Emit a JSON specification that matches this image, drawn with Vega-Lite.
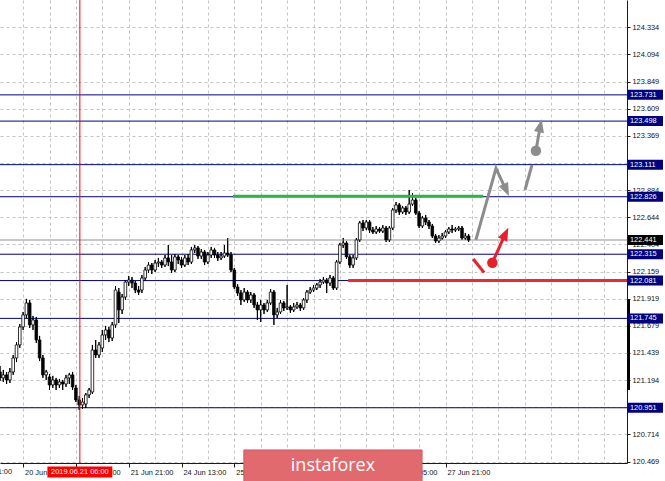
{
  "$schema": "https://vega.github.io/schema/vega-lite/v6.json",
  "width": 627,
  "height": 463,
  "autosize": {"type": "none"},
  "padding": {"left": 0, "top": 0, "right": 38, "bottom": 18},
  "background": "#ffffff",
  "config": {
    "view": {"stroke": null},
    "font": "Liberation Sans",
    "scale": {"continuousPadding": 0},
    "axis": {
      "grid": true, "gridColor": "#c4c4c4", "gridDash": [3, 3], "gridWidth": 1,
      "domainColor": "#1a1a1a", "tickColor": "#1a1a1a",
      "labelFont": "Liberation Sans", "labelFontSize": 7.4, "labelColor": "#111111",
      "labelOverlap": false, "labelBound": false, "labelFlush": false
    }
  },
  "resolve": {"scale": {"color": "independent"}},
  "datasets": {
    "candles": [
      {"bar":0,"open":121.269,"high":121.322,"low":121.189,"close":121.216},
      {"bar":1,"open":121.216,"high":121.287,"low":121.180,"close":121.243},
      {"bar":2,"open":121.243,"high":121.269,"low":121.162,"close":121.198},
      {"bar":3,"open":121.198,"high":121.304,"low":121.171,"close":121.269},
      {"bar":4,"open":121.269,"high":121.420,"low":121.243,"close":121.393},
      {"bar":5,"open":121.393,"high":121.535,"low":121.357,"close":121.509},
      {"bar":6,"open":121.509,"high":121.695,"low":121.482,"close":121.669},
      {"bar":7,"open":121.669,"high":121.802,"low":121.642,"close":121.776},
      {"bar":8,"open":121.776,"high":121.918,"low":121.749,"close":121.882},
      {"bar":9,"open":121.882,"high":121.909,"low":121.660,"close":121.687},
      {"bar":10,"open":121.687,"high":121.767,"low":121.642,"close":121.731},
      {"bar":11,"open":121.731,"high":121.758,"low":121.526,"close":121.553},
      {"bar":12,"open":121.553,"high":121.589,"low":121.366,"close":121.393},
      {"bar":13,"open":121.393,"high":121.420,"low":121.216,"close":121.243},
      {"bar":14,"open":121.243,"high":121.287,"low":121.198,"close":121.269},
      {"bar":15,"open":121.225,"high":121.251,"low":121.109,"close":121.154},
      {"bar":16,"open":121.154,"high":121.234,"low":121.127,"close":121.198},
      {"bar":17,"open":121.198,"high":121.216,"low":121.109,"close":121.154},
      {"bar":18,"open":121.154,"high":121.207,"low":121.127,"close":121.180},
      {"bar":19,"open":121.180,"high":121.198,"low":121.109,"close":121.162},
      {"bar":20,"open":121.162,"high":121.243,"low":121.136,"close":121.216},
      {"bar":21,"open":121.216,"high":121.260,"low":121.162,"close":121.243},
      {"bar":22,"open":121.243,"high":121.269,"low":121.109,"close":121.136},
      {"bar":23,"open":121.127,"high":121.154,"low":121.002,"close":121.020},
      {"bar":24,"open":121.020,"high":121.056,"low":120.931,"close":120.976},
      {"bar":25,"open":120.976,"high":121.038,"low":120.940,"close":121.002},
      {"bar":26,"open":120.984,"high":121.082,"low":120.949,"close":121.065},
      {"bar":27,"open":121.065,"high":121.127,"low":121.038,"close":121.109},
      {"bar":28,"open":121.091,"high":121.509,"low":121.073,"close":121.464},
      {"bar":29,"open":121.464,"high":121.553,"low":121.393,"close":121.420},
      {"bar":30,"open":121.420,"high":121.535,"low":121.393,"close":121.509},
      {"bar":31,"open":121.482,"high":121.642,"low":121.446,"close":121.598},
      {"bar":32,"open":121.598,"high":121.678,"low":121.553,"close":121.642},
      {"bar":33,"open":121.642,"high":121.669,"low":121.535,"close":121.571},
      {"bar":34,"open":121.571,"high":121.713,"low":121.544,"close":121.687},
      {"bar":35,"open":121.687,"high":122.033,"low":121.660,"close":121.997},
      {"bar":36,"open":121.979,"high":122.015,"low":121.704,"close":121.820},
      {"bar":37,"open":121.820,"high":121.962,"low":121.784,"close":121.935},
      {"bar":38,"open":121.935,"high":122.086,"low":121.909,"close":122.068},
      {"bar":39,"open":122.068,"high":122.122,"low":122.033,"close":122.086},
      {"bar":40,"open":122.086,"high":122.113,"low":122.015,"close":122.059},
      {"bar":41,"open":122.059,"high":122.077,"low":121.970,"close":121.997},
      {"bar":42,"open":121.997,"high":122.033,"low":121.953,"close":121.979},
      {"bar":43,"open":121.997,"high":122.131,"low":121.970,"close":122.104},
      {"bar":44,"open":122.104,"high":122.202,"low":122.077,"close":122.175},
      {"bar":45,"open":122.175,"high":122.246,"low":122.148,"close":122.219},
      {"bar":46,"open":122.219,"high":122.237,"low":122.139,"close":122.175},
      {"bar":47,"open":122.175,"high":122.264,"low":122.157,"close":122.237},
      {"bar":48,"open":122.237,"high":122.282,"low":122.202,"close":122.246},
      {"bar":49,"open":122.246,"high":122.264,"low":122.193,"close":122.219},
      {"bar":50,"open":122.219,"high":122.308,"low":122.202,"close":122.282},
      {"bar":51,"open":122.282,"high":122.397,"low":122.210,"close":122.246},
      {"bar":52,"open":122.246,"high":122.308,"low":122.148,"close":122.175},
      {"bar":53,"open":122.175,"high":122.317,"low":122.157,"close":122.291},
      {"bar":54,"open":122.291,"high":122.308,"low":122.228,"close":122.264},
      {"bar":55,"open":122.264,"high":122.291,"low":122.193,"close":122.219},
      {"bar":56,"open":122.219,"high":122.308,"low":122.202,"close":122.282},
      {"bar":57,"open":122.282,"high":122.317,"low":122.219,"close":122.246},
      {"bar":58,"open":122.246,"high":122.380,"low":122.228,"close":122.353},
      {"bar":59,"open":122.353,"high":122.397,"low":122.326,"close":122.371},
      {"bar":60,"open":122.371,"high":122.388,"low":122.273,"close":122.299},
      {"bar":61,"open":122.299,"high":122.362,"low":122.273,"close":122.335},
      {"bar":62,"open":122.335,"high":122.353,"low":122.219,"close":122.246},
      {"bar":63,"open":122.246,"high":122.335,"low":122.228,"close":122.308},
      {"bar":64,"open":122.308,"high":122.380,"low":122.282,"close":122.353},
      {"bar":65,"open":122.353,"high":122.371,"low":122.282,"close":122.308},
      {"bar":66,"open":122.308,"high":122.335,"low":122.255,"close":122.282},
      {"bar":67,"open":122.282,"high":122.335,"low":122.264,"close":122.299},
      {"bar":68,"open":122.299,"high":122.397,"low":122.282,"close":122.326},
      {"bar":69,"open":122.326,"high":122.459,"low":122.291,"close":122.308},
      {"bar":70,"open":122.308,"high":122.335,"low":122.157,"close":122.175},
      {"bar":71,"open":122.175,"high":122.193,"low":122.006,"close":122.024},
      {"bar":72,"open":122.024,"high":122.050,"low":121.944,"close":121.970},
      {"bar":73,"open":121.970,"high":121.997,"low":121.864,"close":121.909},
      {"bar":74,"open":121.909,"high":122.015,"low":121.891,"close":121.979},
      {"bar":75,"open":121.979,"high":121.997,"low":121.882,"close":121.909},
      {"bar":76,"open":121.909,"high":121.979,"low":121.882,"close":121.953},
      {"bar":77,"open":121.953,"high":121.970,"low":121.838,"close":121.864},
      {"bar":78,"open":121.864,"high":121.891,"low":121.731,"close":121.820},
      {"bar":79,"open":121.820,"high":121.909,"low":121.713,"close":121.864},
      {"bar":80,"open":121.864,"high":121.882,"low":121.784,"close":121.820},
      {"bar":81,"open":121.820,"high":121.909,"low":121.802,"close":121.882},
      {"bar":82,"open":121.882,"high":122.006,"low":121.864,"close":121.979},
      {"bar":83,"open":121.979,"high":121.997,"low":121.687,"close":121.776},
      {"bar":84,"open":121.776,"high":121.838,"low":121.749,"close":121.802},
      {"bar":85,"open":121.802,"high":121.909,"low":121.784,"close":121.882},
      {"bar":86,"open":121.882,"high":121.900,"low":121.811,"close":121.838},
      {"bar":87,"open":121.838,"high":122.042,"low":121.820,"close":121.847},
      {"bar":88,"open":121.847,"high":121.864,"low":121.793,"close":121.820},
      {"bar":89,"open":121.820,"high":121.882,"low":121.802,"close":121.847},
      {"bar":90,"open":121.847,"high":121.891,"low":121.829,"close":121.864},
      {"bar":91,"open":121.864,"high":121.882,"low":121.811,"close":121.838},
      {"bar":92,"open":121.838,"high":121.926,"low":121.820,"close":121.909},
      {"bar":93,"open":121.909,"high":121.997,"low":121.882,"close":121.979},
      {"bar":94,"open":121.979,"high":122.024,"low":121.962,"close":121.997},
      {"bar":95,"open":121.997,"high":122.042,"low":121.979,"close":122.015},
      {"bar":96,"open":122.015,"high":122.059,"low":121.997,"close":122.042},
      {"bar":97,"open":122.042,"high":122.095,"low":122.015,"close":122.068},
      {"bar":98,"open":122.068,"high":122.113,"low":122.050,"close":122.086},
      {"bar":99,"open":122.086,"high":122.104,"low":121.970,"close":122.059},
      {"bar":100,"open":122.059,"high":122.131,"low":122.033,"close":122.104},
      {"bar":101,"open":122.104,"high":122.122,"low":121.997,"close":122.015},
      {"bar":102,"open":122.015,"high":122.264,"low":121.997,"close":122.246},
      {"bar":103,"open":122.246,"high":122.415,"low":122.228,"close":122.397},
      {"bar":104,"open":122.397,"high":122.459,"low":122.371,"close":122.415},
      {"bar":105,"open":122.415,"high":122.433,"low":122.273,"close":122.291},
      {"bar":106,"open":122.291,"high":122.308,"low":122.193,"close":122.219},
      {"bar":107,"open":122.219,"high":122.308,"low":122.193,"close":122.282},
      {"bar":108,"open":122.282,"high":122.459,"low":122.264,"close":122.442},
      {"bar":109,"open":122.442,"high":122.610,"low":122.424,"close":122.593},
      {"bar":110,"open":122.593,"high":122.619,"low":122.521,"close":122.548},
      {"bar":111,"open":122.548,"high":122.619,"low":122.530,"close":122.601},
      {"bar":112,"open":122.601,"high":122.619,"low":122.504,"close":122.530},
      {"bar":113,"open":122.530,"high":122.557,"low":122.495,"close":122.513},
      {"bar":114,"open":122.513,"high":122.566,"low":122.495,"close":122.539},
      {"bar":115,"open":122.539,"high":122.557,"low":122.504,"close":122.521},
      {"bar":116,"open":122.521,"high":122.575,"low":122.504,"close":122.548},
      {"bar":117,"open":122.548,"high":122.566,"low":122.424,"close":122.442},
      {"bar":118,"open":122.442,"high":122.566,"low":122.424,"close":122.548},
      {"bar":119,"open":122.548,"high":122.726,"low":122.530,"close":122.708},
      {"bar":120,"open":122.708,"high":122.779,"low":122.681,"close":122.753},
      {"bar":121,"open":122.753,"high":122.770,"low":122.664,"close":122.690},
      {"bar":122,"open":122.690,"high":122.744,"low":122.673,"close":122.726},
      {"bar":123,"open":122.726,"high":122.744,"low":122.664,"close":122.690},
      {"bar":124,"open":122.690,"high":122.886,"low":122.673,"close":122.761},
      {"bar":125,"open":122.761,"high":122.859,"low":122.744,"close":122.797},
      {"bar":126,"open":122.797,"high":122.815,"low":122.664,"close":122.681},
      {"bar":127,"open":122.681,"high":122.699,"low":122.548,"close":122.566},
      {"bar":128,"open":122.566,"high":122.655,"low":122.548,"close":122.637},
      {"bar":129,"open":122.637,"high":122.664,"low":122.575,"close":122.601},
      {"bar":130,"open":122.601,"high":122.619,"low":122.539,"close":122.566},
      {"bar":131,"open":122.566,"high":122.584,"low":122.459,"close":122.477},
      {"bar":132,"open":122.477,"high":122.495,"low":122.415,"close":122.433},
      {"bar":133,"open":122.433,"high":122.486,"low":122.415,"close":122.459},
      {"bar":134,"open":122.459,"high":122.504,"low":122.442,"close":122.477},
      {"bar":135,"open":122.477,"high":122.530,"low":122.459,"close":122.513},
      {"bar":136,"open":122.513,"high":122.557,"low":122.495,"close":122.539},
      {"bar":137,"open":122.539,"high":122.575,"low":122.504,"close":122.530},
      {"bar":138,"open":122.530,"high":122.557,"low":122.513,"close":122.539},
      {"bar":139,"open":122.539,"high":122.566,"low":122.521,"close":122.548},
      {"bar":140,"open":122.548,"high":122.566,"low":122.442,"close":122.459},
      {"bar":141,"open":122.459,"high":122.504,"low":122.442,"close":122.477},
      {"bar":142,"open":122.477,"high":122.495,"low":122.424,"close":122.441}
    ],
    "levels": [
      {"price":123.731},{"price":123.498},{"price":123.111},{"price":122.826},
      {"price":122.315},{"price":122.081},{"price":121.745},{"price":120.951}
    ],
    "quote": [{"price":122.441}],
    "zones": [
      {"side":"resistance","from":70.6,"to":146.4,"price":122.83},
      {"side":"support","from":105.5,"to":190,"price":122.081}
    ],
    "forecast": [
      {"leg":"g1","scenario":"main","step":0,"bar":144.2,"price":122.442},
      {"leg":"g1","scenario":"main","step":1,"bar":150.3,"price":123.079},
      {"leg":"g1","scenario":"main","step":2,"bar":153.3,"price":122.890},
      {"leg":"g2","scenario":"main","step":0,"bar":159.1,"price":122.886},
      {"leg":"g2","scenario":"main","step":1,"bar":161.2,"price":123.108},
      {"leg":"g3","scenario":"main","step":0,"bar":162.4,"price":123.235},
      {"leg":"g3","scenario":"main","step":1,"bar":163.7,"price":123.452},
      {"leg":"r1","scenario":"alt","step":0,"bar":143.4,"price":122.273},
      {"leg":"r1","scenario":"alt","step":1,"bar":146.7,"price":122.151},
      {"leg":"r2","scenario":"alt","step":0,"bar":149.2,"price":122.240},
      {"leg":"r2","scenario":"alt","step":1,"bar":153.1,"price":122.493}
    ],
    "pivots": [
      {"scenario":"main","bar":162.4,"price":123.235},
      {"scenario":"alt","bar":149.2,"price":122.240}
    ],
    "heads": [
      {"scenario":"main","bar":153.33,"price":122.890,"heading":155},
      {"scenario":"main","bar":163.7,"price":123.452,"heading":12},
      {"scenario":"alt","bar":153.1,"price":122.493,"heading":25}
    ],
    "marker": [{"bar":24.2,"stamp":"2019.06.21 06:00"}],
    "banner": [{"from":73.9,"to":127.9,"mid":100.9,"brand":"instaforex"}]
  },
  "layer": [
    {
      "data": {"name": "candles"},
      "mark": {"type": "rule", "color": "#000000", "strokeWidth": 1},
      "encoding": {
        "x": {
          "field": "bar", "type": "quantitative",
          "scale": {"domain": [0, 190], "nice": false, "zero": false, "padding": 0},
          "axis": {
            "orient": "bottom", "title": null, "tickCount": 100,
            "values": [7,15,23,31,39,47,55,63,71,79,87,95,103,111,119,127,135,143,151,159,167,175,183],
            "tickSize": 4,
            "tickColor": {"condition": {"test": "(datum.value - 7) % 16 === 0 && datum.value <= 135", "value": "#1a1a1a"}, "value": "transparent"},
            "labelExpr": "(datum.value - 7) % 16 === 0 && datum.value <= 135 ? ['20 Jun 13:00','21 Jun 05:00','21 Jun 21:00','24 Jun 13:00','25 Jun 05:00','25 Jun 21:00','26 Jun 13:00','27 Jun 05:00','27 Jun 21:00'][(datum.value - 7) / 16] : ''",
            "labelAlign": "left", "labelOffset": 1.5, "labelPadding": 1,
            "labelOverlap": false
          }
        },
        "y": {
          "field": "low", "type": "quantitative",
          "scale": {"domain": [120.46, 124.574], "nice": false, "zero": false, "padding": 0},
          "axis": {
            "orient": "right", "title": null, "tickCount": 100,
            "values": [124.334,124.094,123.849,123.609,123.369,123.129,122.884,122.644,122.404,122.159,121.919,121.679,121.439,121.194,120.954,120.714,120.469],
            "format": ".3f", "tickSize": 3, "labelPadding": 2,
            "labelOverlap": false
          }
        },
        "y2": {"field": "high"}
      }
    },
    {
      "data": {"name": "levels"},
      "mark": {"type": "rule", "color": "#000080", "strokeWidth": 1},
      "encoding": {
        "y": {"field": "price", "type": "quantitative", "title": null}
      }
    },
    {
      "data": {"name": "quote"},
      "mark": {"type": "rule", "color": "#c8c8c8", "strokeWidth": 2},
      "encoding": {
        "y": {"field": "price", "type": "quantitative", "title": null}
      }
    },
    {
      "data": {"name": "candles"},
      "mark": {"type": "rule", "color": "#000000", "strokeWidth": 1},
      "encoding": {
        "x": {"field": "bar", "type": "quantitative", "title": null},
        "y": {"field": "low", "type": "quantitative", "title": null},
        "y2": {"field": "high"}
      }
    },
    {
      "data": {"name": "candles"},
      "mark": {"type": "bar", "orient": "vertical", "width": 2.6, "stroke": "#000000", "strokeWidth": 0.8},
      "encoding": {
        "x": {"field": "bar", "type": "quantitative", "title": null},
        "y": {"field": "open", "type": "quantitative", "title": null},
        "y2": {"field": "close"},
        "fill": {"condition": {"test": "datum.close >= datum.open", "value": "#ffffff"}, "value": "#000000"}
      }
    },
    {
      "data": {"name": "marker"},
      "mark": {"type": "rule", "color": "#ff0000", "strokeWidth": 1},
      "encoding": {
        "x": {"field": "bar", "type": "quantitative", "title": null}
      }
    },
    {
      "data": {"name": "zones"},
      "mark": {"type": "rule", "strokeWidth": 3},
      "encoding": {
        "x": {"field": "from", "type": "quantitative", "title": null},
        "x2": {"field": "to"},
        "y": {"field": "price", "type": "quantitative", "title": null},
        "color": {"field": "side", "type": "nominal", "scale": {"domain": ["resistance", "support"], "range": ["#2db54a", "#ee2a30"]}, "legend": null}
      }
    },
    {
      "data": {"name": "forecast"},
      "mark": {"type": "line", "strokeWidth": 3, "strokeCap": "butt"},
      "encoding": {
        "x": {"field": "bar", "type": "quantitative", "title": null},
        "y": {"field": "price", "type": "quantitative", "title": null},
        "detail": {"field": "leg"},
        "order": {"field": "step", "type": "quantitative"},
        "color": {"field": "scenario", "type": "nominal", "scale": {"domain": ["main", "alt"], "range": ["#8c8c8c", "#e8202a"]}, "legend": null}
      }
    },
    {
      "data": {"name": "pivots"},
      "mark": {"type": "point", "shape": "circle", "filled": true, "opacity": 1, "size": 110},
      "encoding": {
        "x": {"field": "bar", "type": "quantitative", "title": null},
        "y": {"field": "price", "type": "quantitative", "title": null},
        "color": {"field": "scenario", "type": "nominal", "scale": {"domain": ["main", "alt"], "range": ["#8c8c8c", "#e8202a"]}, "legend": null}
      }
    },
    {
      "data": {"name": "heads"},
      "mark": {"type": "point", "shape": "M0,-1.2L-0.85,1L0.85,1Z", "filled": true, "opacity": 1, "size": 144},
      "encoding": {
        "x": {"field": "bar", "type": "quantitative", "title": null},
        "y": {"field": "price", "type": "quantitative", "title": null},
        "angle": {"field": "heading", "type": "quantitative", "scale": null},
        "color": {"field": "scenario", "type": "nominal", "scale": {"domain": ["main", "alt"], "range": ["#8c8c8c", "#e8202a"]}, "legend": null}
      }
    },
    {
      "data": {"values": [{"top": 121.909, "bottom": 121.109}]},
      "mark": {"type": "rule", "color": "#000000", "strokeWidth": 3},
      "encoding": {
        "x": {"datum": 190.45},
        "y": {"field": "top", "type": "quantitative", "title": null},
        "y2": {"field": "bottom"}
      }
    },
    {
      "data": {"name": "levels"},
      "mark": {"type": "point", "shape": "M0,-1H7V1H0Z", "filled": true, "opacity": 1, "size": 100, "color": "#000080", "strokeWidth": 0},
      "encoding": {
        "x": {"datum": 190.3},
        "y": {"field": "price", "type": "quantitative", "title": null}
      }
    },
    {
      "data": {"name": "levels"},
      "mark": {"type": "text", "align": "left", "baseline": "middle", "dx": 2, "fontSize": 7.4, "font": "Liberation Sans", "color": "#ffffff"},
      "encoding": {
        "x": {"datum": 190.3},
        "y": {"field": "price", "type": "quantitative", "title": null},
        "text": {"field": "price", "type": "quantitative", "format": ".3f"}
      }
    },
    {
      "data": {"name": "quote"},
      "mark": {"type": "point", "shape": "M0,-1H7V1H0Z", "filled": true, "opacity": 1, "size": 100, "color": "#000000", "strokeWidth": 0},
      "encoding": {
        "x": {"datum": 190.3},
        "y": {"field": "price", "type": "quantitative", "title": null}
      }
    },
    {
      "data": {"name": "quote"},
      "mark": {"type": "text", "align": "left", "baseline": "middle", "dx": 2, "fontSize": 7.4, "font": "Liberation Sans", "color": "#ffffff"},
      "encoding": {
        "x": {"datum": 190.3},
        "y": {"field": "price", "type": "quantitative", "title": null},
        "text": {"field": "price", "type": "quantitative", "format": ".3f"}
      }
    },
    {
      "data": {"name": "marker"},
      "mark": {"type": "point", "shape": "M-5.9,-1H5.9V1H-5.9Z", "filled": true, "opacity": 1, "size": 121, "color": "#ff0000", "strokeWidth": 0},
      "encoding": {
        "x": {"field": "bar", "type": "quantitative", "title": null},
        "y": {"datum": 120.38}
      }
    },
    {
      "data": {"name": "marker"},
      "mark": {"type": "text", "align": "center", "baseline": "middle", "fontSize": 7.4, "font": "Liberation Sans", "color": "#ffffff"},
      "encoding": {
        "x": {"field": "bar", "type": "quantitative", "title": null},
        "y": {"datum": 120.38},
        "text": {"field": "stamp"}
      }
    },
    {
      "data": {"values": [{"bar": -9, "label": "19 Jun 21:00"}]},
      "mark": {"type": "text", "align": "left", "baseline": "middle", "dx": -1, "fontSize": 7.4, "font": "Liberation Sans", "color": "#111111"},
      "encoding": {
        "x": {"field": "bar", "type": "quantitative", "title": null},
        "y": {"datum": 120.38},
        "text": {"field": "label"}
      }
    },
    {
      "data": {"name": "banner"},
      "mark": {"type": "rect", "color": "#e06a6d", "stroke": "#cf5c60", "strokeWidth": 1},
      "encoding": {
        "x": {"field": "from", "type": "quantitative", "title": null},
        "x2": {"field": "to"},
        "y": {"datum": 120.576},
        "y2": {"datum": 120.2}
      }
    },
    {
      "data": {"name": "banner"},
      "mark": {"type": "text", "align": "center", "baseline": "alphabetic", "fontSize": 18, "font": "Open Sans", "color": "#ffffff"},
      "encoding": {
        "x": {"field": "mid", "type": "quantitative", "title": null},
        "y": {"datum": 120.392},
        "text": {"field": "brand"}
      }
    }
  ]
}
